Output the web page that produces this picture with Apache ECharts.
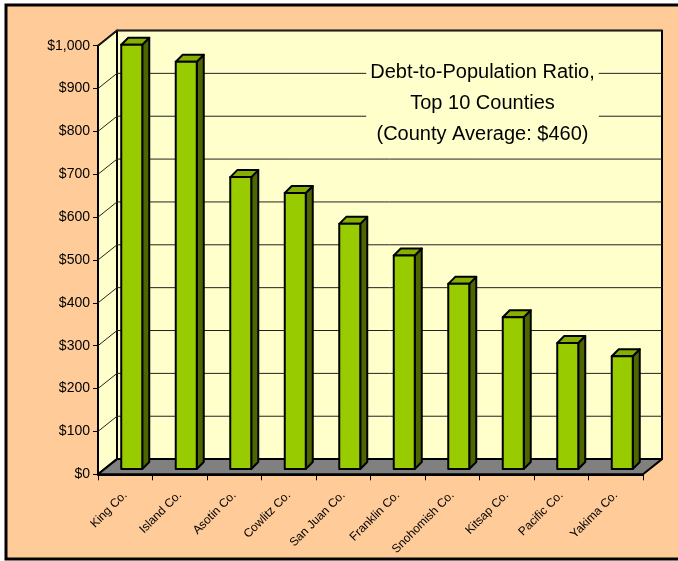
<!DOCTYPE html>
<html><head><meta charset="utf-8">
<script src="https://cdn.jsdelivr.net/npm/echarts@6/dist/echarts.min.js"></script>
<style>html,body{margin:0;padding:0;background:#fff}#c{width:678px;height:561px}</style>
</head><body><div id="c"></div>
<script>
// ---- data ----
const categories = ['King Co.','Island Co.','Asotin Co.','Cowlitz Co.','San Juan Co.','Franklin Co.','Snohomish Co.','Kitsap Co.','Pacific Co.','Yakima Co.'];
const values = [990, 950, 681, 644, 572, 498, 432, 354, 294, 263];
const yMin = 0, yMax = 1000, yStep = 100;
const gridValues = [100, 200, 300, 400, 500, 600, 700, 800, 900, 1000];
const titleLines = ['Debt-to-Population Ratio,', 'Top 10 Counties', '(County Average: $460)'];

// ---- style ----
const WALL_DX = 19, WALL_DY = -15.2;
const BAR_OX = 6.5, BAR_OY = -5.3, BAR_HW = 10.5, BAR_DX = 7, BAR_DY = -7;
const C_FRONT = '#99CC00', C_SIDE = '#4D6600', C_TOP = '#86B000';
const C_WALL = '#FFFFCC', C_FLOOR = '#808080', C_BG = '#FFCC99';

const chart = echarts.init(document.getElementById('c'), null, {renderer: 'canvas'});

function edges(api) {
  const bw = api.size([1, 0])[0];
  const xl = api.coord([0, 0])[0] - bw / 2;
  const xr = api.coord([categories.length - 1, 0])[0] + bw / 2;
  return [xl, xr];
}

function renderWalls(params, api) {
  const [xl, xr] = edges(api);
  const y0 = api.coord([0, yMin])[1];
  const y1 = api.coord([0, yMax])[1];
  const st = {fill: C_WALL, stroke: '#000', lineWidth: 2, lineJoin: 'round'};
  return {type: 'group', children: [
    {type: 'polygon', shape: {points: [[xl + WALL_DX, y1 + WALL_DY], [xr + WALL_DX, y1 + WALL_DY], [xr + WALL_DX, y0 + WALL_DY], [xl + WALL_DX, y0 + WALL_DY]]}, style: st},
    {type: 'polygon', shape: {points: [[xl, y1], [xl + WALL_DX, y1 + WALL_DY], [xl + WALL_DX, y0 + WALL_DY], [xl, y0]]}, style: st}
  ]};
}

function renderGrid(params, api) {
  const [xl, xr] = edges(api);
  const y = api.coord([0, api.value(1)])[1];
  const ls = {stroke: '#222', lineWidth: 1};
  return {type: 'group', children: [
    {type: 'line', shape: {x1: xl + WALL_DX, y1: y + WALL_DY, x2: xr + WALL_DX, y2: y + WALL_DY}, style: ls},
    {type: 'line', shape: {x1: xl, y1: y, x2: xl + WALL_DX, y2: y + WALL_DY}, style: ls}
  ]};
}

function renderFloor(params, api) {
  const [xl, xr] = edges(api);
  const y0 = api.coord([0, yMin])[1];
  return {type: 'polygon', shape: {points: [[xl, y0], [xr, y0], [xr + WALL_DX, y0 + WALL_DY], [xl + WALL_DX, y0 + WALL_DY]]},
    style: {fill: C_FLOOR, stroke: '#000', lineWidth: 2, lineJoin: 'round'}};
}

function renderBar(params, api) {
  const i = api.value(0), v = api.value(1);
  const top = api.coord([i, v]);
  const base = api.coord([i, yMin]);
  const cx = top[0] + BAR_OX;
  const yt = top[1] + BAR_OY, yb = base[1] + BAR_OY;
  const xl = cx - BAR_HW, xr = cx + BAR_HW;
  const s = (f) => ({fill: f, stroke: '#000', lineWidth: 2, lineJoin: 'round'});
  return {type: 'group', children: [
    {type: 'polygon', shape: {points: [[xr, yt], [xr + BAR_DX, yt + BAR_DY], [xr + BAR_DX, yb + BAR_DY], [xr, yb]]}, style: s(C_SIDE)},
    {type: 'polygon', shape: {points: [[xl, yt], [xl + BAR_DX, yt + BAR_DY], [xr + BAR_DX, yt + BAR_DY], [xr, yt]]}, style: s(C_TOP)},
    {type: 'rect', shape: {x: xl, y: yt, width: xr - xl, height: yb - yt}, style: s(C_FRONT)}
  ]};
}

const option = {
  backgroundColor: '#fff',
  animation: false,
  textStyle: {fontFamily: 'Liberation Sans, Arial, sans-serif'},
  graphic: [
    {type: 'rect', z: -10, shape: {x: 6, y: 5, width: 700, height: 554}, style: {fill: C_BG, stroke: '#000', lineWidth: 3}},
    {type: 'text', z: 100, x: 482.5, y: 103,
      style: {text: titleLines.join('\n'), fill: '#000', font: '20px "Liberation Sans", Arial, sans-serif',
        align: 'center', verticalAlign: 'middle', lineHeight: 31, backgroundColor: C_WALL, padding: [0, 4]}}
  ],
  grid: {left: 98, right: 35, top: 45.7, bottom: 86.7, containLabel: false},
  xAxis: {
    type: 'category', data: categories,
    axisLine: {show: true, lineStyle: {color: '#000', width: 2}},
    axisTick: {show: true, length: 6, lineStyle: {color: '#000', width: 1}},
    axisLabel: {rotate: 45, interval: 0, fontSize: 12, color: '#000', margin: 19, fontFamily: 'Liberation Sans, Arial, sans-serif'},
    splitLine: {show: false}
  },
  yAxis: {
    type: 'value', min: yMin, max: yMax, interval: yStep,
    axisLine: {show: true, lineStyle: {color: '#000', width: 2}},
    axisTick: {show: true, length: 5, lineStyle: {color: '#000', width: 1}},
    axisLabel: {fontSize: 14, color: '#000', margin: 8, formatter: (v) => '$' + v.toLocaleString('en-US'), fontFamily: 'Liberation Sans, Arial, sans-serif'},
    splitLine: {show: false}
  },
  series: [
    {type: 'custom', z: 1, clip: false, silent: true, renderItem: renderWalls, data: [[0, 0]]},
    {type: 'custom', z: 2, clip: false, silent: true, renderItem: renderGrid, data: gridValues.map(v => [0, v])},
    {type: 'custom', z: 3, clip: false, silent: true, renderItem: renderFloor, data: [[0, 0]]},
    {type: 'custom', z: 4, clip: false, renderItem: renderBar, data: values.map((v, i) => [i, v])}
  ]
};
chart.setOption(option);
</script></body></html>
